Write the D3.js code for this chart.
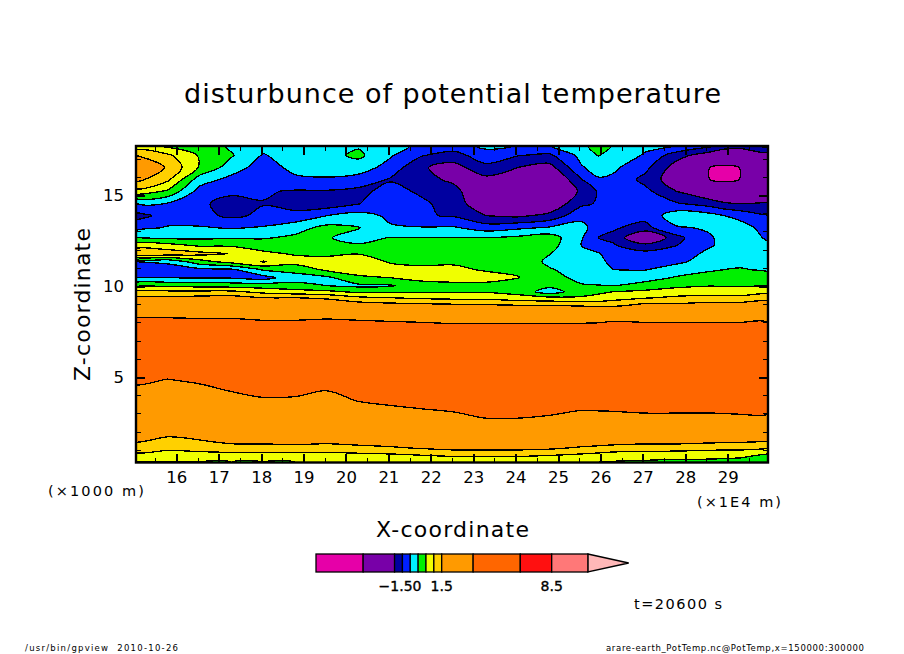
<!DOCTYPE html>
<html>
<head>
<meta charset="utf-8">
<script src="https://cdn.jsdelivr.net/npm/d3@7"></script>
<style>
  body { margin: 0; background: #fff; }
  text { font-family: 'DejaVu Sans', sans-serif; fill: #000; }
</style>
</head>
<body>
<div id="chart"></div>
<script>
// x (x1E4 m) of each grid column, z (km) of each grid row
const gridX = [15.05, 15.8, 16.55, 17.3, 18.05, 18.8, 19.55, 20.3, 21.05, 21.8, 22.55, 23.3, 24.05, 24.8, 25.55, 25.95, 26.3, 27.05, 27.8, 28.55, 28.92, 29.3, 29.95]
const gridZ = [17.7, 17.18, 16.52, 15.86, 15.2, 14.53, 13.87, 13.21, 12.66, 12.22, 11.78, 11.34, 10.9, 10.46, 10.02, 9.69, 9.36, 8.92, 8.26, 7.05, 4.84, 3.74, 2.64, 1.54, 1.1, 0.77, 0.55, 0.3]

// potential temperature disturbance, one profile per column, top to bottom
const theta = [
  [0.7, 1.5, 1.9, 1.65, 0.8, -0.55, -1.2, -0.7, 0, 0.8, 1.4, -0.5, -0.75, -0.5, 0.38, 1.1, 1.6, 2.4, 3.5, 5, 3.67, 2.98, 2.29, 1.6, 1.25, 0.94, 0.69, 0.44],
  [0.4, 1.1, 1.45, 1.1, 0.4, -0.55, -0.8, -0.45, -0.1, 0.7, 1.3, -0.4, -0.75, -0.5, 0.38, 1.1, 1.6, 2.4, 3.5, 5, 3.47, 2.78, 2.09, 1.39, 1.11, 0.85, 0.65, 0.45],
  [0.3, 0.45, 0.45, -0.25, -0.7, -0.9, -0.85, -0.45, -0.1, 0.45, 1.15, 0.3, -0.65, -0.55, 0.35, 1.1, 1.65, 2.4, 3.45, 5, 3.64, 2.93, 2.21, 1.5, 1.17, 0.89, 0.67, 0.44],
  [-0.1, 0.05, -0.25, -0.65, -0.9, -1.2, -1.1, -0.55, -0.05, 0.45, 0.98, 0.7, -0.6, -0.55, 0.3, 1.1, 1.7, 2.4, 3.45, 5, 3.92, 3.2, 2.44, 1.69, 1.29, 0.9, 0.7, 0.5],
  [-0.3, -0.55, -0.75, -0.9, -0.95, -1.02, -0.9, -0.45, -0.05, 0.3, 0.6, 1.03, 0.05, -0.7, 0.25, 0.85, 1.5, 2.3, 3.3, 5, 4.13, 3.41, 2.56, 1.71, 1.29, 0.89, 0.67, 0.44],
  [-0.3, -0.2, -0.35, -0.6, -1.05, -1.2, -0.85, -0.2, 0.1, 0.35, 0.45, 0.7, 0.15, -0.2, 0.15, 0.7, 1.5, 2.2, 3.3, 5, 4.1, 3.38, 2.56, 1.74, 1.33, 0.9, 0.7, 0.5],
  [-0.2, -0.15, -0.3, -0.55, -1.05, -1.3, -0.5, 0.15, 0.03, 0.2, 0.45, 0.6, 0.6, -0.1, 0, 0.6, 1.4, 2.0, 3.4, 5, 3.89, 3.17, 2.43, 1.69, 1.29, 0.9, 0.7, 0.5],
  [-0.05, 0.1, -0.25, -0.7, -1.15, -1.02, -0.3, 0.02, -0.15, 0.05, 0.48, 0.8, 0.75, 0.4, -0.1, 0.4, 1.1, 1.85, 3.3, 5, 4.27, 3.57, 2.68, 1.77, 1.36, 0.95, 0.75, 0.55],
  [-0.35, -0.45, -0.7, -1.05, -0.8, -0.6, -0.6, -0.45, 0.02, 0.3, 0.35, 0.45, 0.7, 0.5, -0.05, 0.4, 1.0, 1.75, 3.2, 5, 4.45, 3.75, 2.85, 1.85, 1.43, 1.0, 0.8, 0.6],
  [-0.6, -0.98, -1.45, -1.35, -1.1, -0.9, -0.95, -0.47, 0, 0.25, 0.35, 0.4, 0.6, 0.65, 0.3, 0.45, 0.9, 1.7, 3.1, 5, 4.58, 3.88, 3.03, 1.97, 1.55, 1.08, 0.83, 0.61],
  [-0.75, -1.2, -1.7, -1.6, -1.35, -1.25, -1.05, -0.45, 0.02, 0.25, 0.35, 0.43, 0.6, 0.7, 0.35, 0.45, 0.85, 1.65, 2.95, 5, 4.69, 3.99, 3.18, 2.09, 1.65, 1.2, 0.88, 0.63],
  [-0.4, -0.7, -1.15, -1.65, -2, -1.9, -1.5, -0.75, 0, 0.2, 0.3, 0.38, 0.45, 0.7, 0.35, 0.45, 0.85, 1.6, 2.95, 5, 4.93, 4.23, 3.43, 2.17, 1.65, 1.2, 0.88, 0.63],
  [-0.52, -0.98, -1.5, -2, -2.2, -2, -1.6, -0.6, 0.1, 0.25, 0.32, 0.38, 0.42, 0.52, 0.2, 0.3, 0.7, 1.55, 2.95, 5, 4.93, 4.23, 3.43, 2.17, 1.65, 1.2, 0.88, 0.63],
  [-0.52, -1.1, -1.7, -2.2, -2.2, -1.95, -1.35, -0.45, 0.25, 0.2, 0.02, -0.12, 0.05, 0.2, 0.12, -0.25, 0.6, 1.55, 3, 5, 4.8, 4.1, 3.32, 2.1, 1.6, 1.1, 0.83, 0.61],
  [-0.2, -0.35, -0.55, -1.02, -1.4, -1.1, -0.65, -0.35, -0.45, -0.5, -0.4, -0.3, -0.25, -0.15, 0.05, 0.3, 0.55, 1.45, 3, 5, 4.65, 3.95, 3.09, 1.91, 1.43, 1, 0.78, 0.56],
  [0.3, 0.02, -0.3, -0.55, -0.95, -0.95, -0.75, -0.75, -1, -0.8, -0.45, -0.35, -0.3, -0.2, 0.02, 0.4, 0.65, 1.4, 3.05, 5, 4.67, 3.97, 3.11, 1.88, 1.36, 0.93, 0.72, 0.5],
  [-0.05, -0.2, -0.4, -0.6, -0.75, -0.8, -0.85, -0.95, -1.1, -0.95, -0.8, -0.65, -0.5, -0.3, 0, 0.5, 0.8, 1.4, 3.2, 5, 4.69, 3.99, 3.13, 1.84, 1.29, 0.86, 0.67, 0.44],
  [-0.4, -0.55, -0.85, -1.15, -0.85, -0.7, -0.85, -1.15, -2.2, -1.3, -0.85, -0.7, -0.52, -0.2, 0.2, 0.6, 0.95, 1.7, 3.1, 5, 4.76, 4.06, 3.21, 1.79, 1.21, 0.83, 0.61, 0.4],
  [-0.5, -1.3, -1.75, -1.85, -1.5, -0.95, -0.2, -0.55, -1.15, -1, -0.75, -0.6, -0.25, 0.05, 0.4, 0.7, 1.1, 1.65, 3.1, 5, 4.76, 4.06, 3.21, 1.79, 1.21, 0.81, 0.56, 0.35],
  [-0.9, -1.8, -3.48, -3.48, -2, -1.2, -0.3, -0.45, -0.55, -0.55, -0.4, -0.3, -0.05, 0.15, 0.48, 0.75, 1.15, 1.75, 3.1, 5, 4.76, 4.06, 3.2, 1.72, 1.14, 0.78, 0.56, 0.33],
  [-1.1, -2.3, -3.7, -3.7, -2.4, -1.4, -0.5, -0.3, -0.4, -0.4, -0.3, -0.2, 0, 0.2, 0.47, 0.72, 1.15, 1.75, 3.1, 5, 4.78, 4.08, 3.23, 1.69, 1.13, 0.76, 0.53, 0.31],
  [-1.2, -2.3, -3.48, -3.48, -2.4, -1.5, -0.65, -0.3, -0.3, -0.25, -0.2, -0.1, 0.03, 0.2, 0.47, 0.7, 1.15, 1.75, 3.1, 5, 4.8, 4.1, 3.26, 1.66, 1.13, 0.75, 0.5, 0.3],
  [-0.9, -1.8, -2.6, -2.6, -2.1, -1.45, -0.98, -0.7, -0.55, -0.45, -0.35, -0.25, -0.05, 0.15, 0.5, 0.85, 1.25, 1.85, 3.1, 5, 4.8, 4.1, 3.25, 1.58, 1.06, 0.5, 0.3, 0.15],
]

// tone levels and the colour of the band starting at each level
const levels = [-6.5, -3.5, -1.5, -1, -0.5, 0, 0.5, 1, 1.5, 3.5, 6.5, 8.5, 10.8]
const levelColors = ['#e600a8', '#7800a8', '#0000a0', '#0020ff', '#00f0ff', '#00f000', '#f0ff00', '#ffd000', '#ff9a00', '#ff6600', '#ff1010', '#ff7878', '#ffb8b8']
const barTip = 13.4
const barTicks = [-1.5, 1.5, 8.5]
const barLabels = ['\u22121.50', '1.5', '8.5']

const xMajor = d3.range(16, 30)
const xMinor = d3.range(15.5, 30, 0.5).filter((d) => !Number.isInteger(d))
const zMajor = [5, 10, 15]
const zMinor = d3.range(1, 18).filter((d) => d % 5 !== 0)

const svg = d3.select('#chart').append('svg').attr('width', 904).attr('height', 654)

const bounds = { left: 136, right: 768, top: 146, bottom: 462.5 }
const xScale = d3.scaleLinear().domain([15.05, 29.95]).range([bounds.left, bounds.right])
const yScale = d3.scaleLinear().domain([0.3, 17.7]).range([bounds.bottom, bounds.top])

// d3.contours puts grid point i at i + 0.5, map that back to the uneven grid
const colPos = d3.scaleLinear().domain(gridX.map((d, i) => i + 0.5)).range(gridX).clamp(true)
const rowPos = d3.scaleLinear().domain(gridZ.map((d, i) => i + 0.5)).range(gridZ).clamp(true)

// rings that reach the edge are pushed out past the frame, the clip cuts them
function projectPoint([c, r]) {
  const px = c <= 0 ? bounds.left - 8 : c >= gridX.length ? bounds.right + 8 : xScale(colPos(c))
  const py = r <= 0 ? bounds.top - 8 : r >= gridZ.length ? bounds.bottom + 8 : yScale(rowPos(r))
  return [px, py]
}
const ringLine = d3.line().curve(d3.curveCatmullRomClosed.alpha(0.5))
const bandPath = (d) =>
  d.coordinates
    .flat()
    .map((ring) => ringLine(ring.slice(0, -1).map(projectPoint)))
    .join('')

const values = []
gridZ.forEach((z, j) => gridX.forEach((x, i) => values.push(theta[i][j])))
const bands = d3.contours().size([gridX.length, gridZ.length]).thresholds(levels.slice(0, -1))(values)

svg.append('clipPath').attr('id', 'plot-clip').append('rect')
  .attr('x', bounds.left).attr('y', bounds.top)
  .attr('width', bounds.right - bounds.left).attr('height', bounds.bottom - bounds.top)

const plot = svg.append('g').attr('clip-path', 'url(#plot-clip)')
plot.append('rect')
  .attr('x', bounds.left).attr('y', bounds.top)
  .attr('width', bounds.right - bounds.left).attr('height', bounds.bottom - bounds.top)
  .attr('fill', levelColors[0])
plot.selectAll('path')
  .data(bands.slice(1))
  .join('path')
  .attr('d', bandPath)
  .attr('fill', (d, i) => levelColors[i + 1])
  .attr('stroke', '#000')
  .attr('stroke-width', 1.3)
  .attr('shape-rendering', 'crispEdges')

// frame
svg.append('rect')
  .attr('x', bounds.left).attr('y', bounds.top)
  .attr('width', bounds.right - bounds.left).attr('height', bounds.bottom - bounds.top)
  .attr('fill', 'none').attr('stroke', '#000').attr('stroke-width', 2.4)

// ticks point inwards on all four sides
function addAxis(axis, transform, width) {
  const g = svg.append('g').attr('transform', transform).call(axis)
  g.select('.domain').remove()
  g.selectAll('line').attr('stroke', '#000').attr('stroke-width', width).attr('shape-rendering', 'crispEdges')
  g.selectAll('text').style('font-family', "'DejaVu Sans'").style('font-size', '16.5px').attr('fill', '#000')
}
const noLabel = () => ''
const bottomAt = `translate(0,${bounds.bottom})`
const topAt = `translate(0,${bounds.top})`
const leftAt = `translate(${bounds.left},0)`
const rightAt = `translate(${bounds.right},0)`

addAxis(d3.axisBottom(xScale).tickValues(xMajor).tickSize(-9).tickPadding(9).tickFormat((d) => d), bottomAt, 2)
addAxis(d3.axisBottom(xScale).tickValues(xMinor).tickSize(-5).tickFormat(noLabel), bottomAt, 1)
addAxis(d3.axisTop(xScale).tickValues(xMajor).tickSize(-9).tickFormat(noLabel), topAt, 2)
addAxis(d3.axisTop(xScale).tickValues(xMinor).tickSize(-5).tickFormat(noLabel), topAt, 1)
addAxis(d3.axisLeft(yScale).tickValues(zMajor).tickSize(-9).tickPadding(12).tickFormat((d) => d), leftAt, 2)
addAxis(d3.axisLeft(yScale).tickValues(zMinor).tickSize(-5).tickFormat(noLabel), leftAt, 1)
addAxis(d3.axisRight(yScale).tickValues(zMajor).tickSize(-9).tickFormat(noLabel), rightAt, 2)
addAxis(d3.axisRight(yScale).tickValues(zMinor).tickSize(-5).tickFormat(noLabel), rightAt, 1)

function addText(str, x, y, size, length) {
  return svg.append('text')
    .attr('x', x).attr('y', y)
    .attr('font-size', size)
    .attr('textLength', length)
    .attr('lengthAdjust', 'spacing')
    .text(str)
}

addText('disturbunce of potential temperature', 184, 103, 27, 537)
addText('X-coordinate', 376, 537, 22, 153)
addText('(\u00d71000 m)', 48, 496, 14.5, 96)
addText('(\u00d71E4 m)', 697, 507, 14.5, 84)
addText('t=20600 s', 634, 609, 14.5, 88)
addText('/usr/bin/gpview  2010-10-26', 25, 651, 8.5, 153).attr('xml:space', 'preserve')
addText('arare-earth_PotTemp.nc@PotTemp,x=150000:300000', 606, 651, 8.5, 258)

svg.append('text')
  .attr('transform', 'translate(90,304.5) rotate(-90)')
  .attr('text-anchor', 'middle')
  .attr('font-size', 22)
  .attr('textLength', 153)
  .attr('lengthAdjust', 'spacing')
  .text('Z-coordinate')

// colour bar
const barScale = d3.scaleLinear().domain([-6.5, 8.5]).range([316, 551.7])
const barTop = 554
const barBottom = 572

const bar = svg.append('g')
bar.append('path')
  .attr('d', d3.line()([
    [barScale(levels[levels.length - 1]), barTop],
    [barScale(barTip), (barTop + barBottom) / 2],
    [barScale(levels[levels.length - 1]), barBottom],
  ]) + 'Z')
  .attr('fill', levelColors[levelColors.length - 1])
  .attr('stroke', '#000')
  .attr('stroke-width', 1.3)

bar.selectAll('rect')
  .data(levels.slice(0, -1))
  .join('rect')
  .attr('x', (d) => barScale(d))
  .attr('y', barTop)
  .attr('width', (d, i) => barScale(levels[i + 1]) - barScale(d))
  .attr('height', barBottom - barTop)
  .attr('fill', (d, i) => levelColors[i])
  .attr('stroke', '#000')
  .attr('stroke-width', 1.3)

bar.selectAll('text')
  .data(barTicks)
  .join('text')
  .attr('x', (d) => barScale(d) + (d < 0 ? 5.5 : 0))
  .attr('y', 591)
  .attr('text-anchor', 'middle')
  .attr('font-size', 14)
  .attr('stroke', '#000')
  .attr('stroke-width', 0.35)
  .text((d, i) => barLabels[i])
</script>
</body>
</html>
